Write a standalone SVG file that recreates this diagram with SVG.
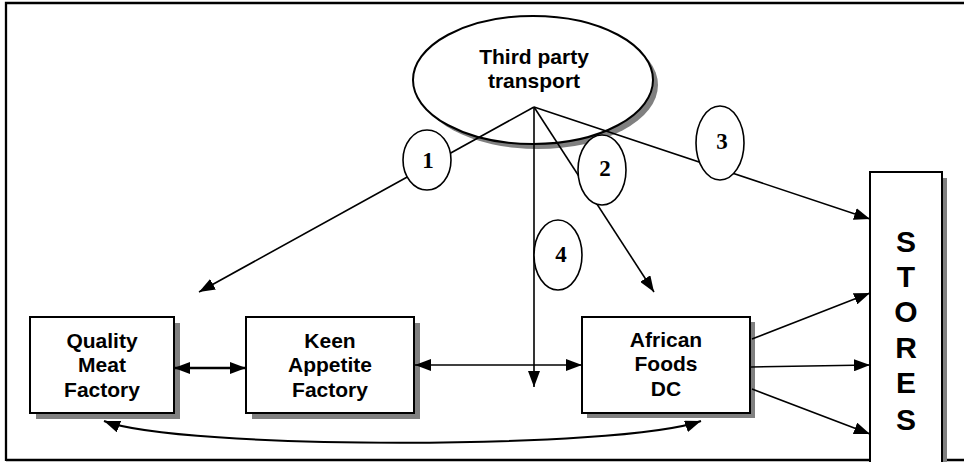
<svg xmlns="http://www.w3.org/2000/svg" width="964" height="462" viewBox="0 0 964 462">
<defs>
<marker id="ah" markerUnits="userSpaceOnUse" markerWidth="16" markerHeight="12" refX="16" refY="6" orient="auto-start-reverse" viewBox="0 0 16 12">
<path d="M0,0 L16,6 L0,12 z" fill="#000"/>
</marker>
</defs>
<style>
.box{fill:#fff;stroke:#000;stroke-width:2}
.shadow{fill:#808080;stroke:none}
.lbl{font-family:"Liberation Sans",Arial,sans-serif;font-weight:bold;font-size:21px;text-anchor:middle;fill:#000}
.st{font-family:"Liberation Sans",Arial,sans-serif;font-weight:bold;font-size:30px;text-anchor:middle;fill:#000}
.num{font-family:"Liberation Serif","Times New Roman",serif;font-weight:bold;font-size:23px;text-anchor:middle;fill:#000}
.cir{fill:#fff;stroke:#000;stroke-width:1.6}
.ln{fill:none;stroke:#000;stroke-width:1.6}
</style>
<rect x="0" y="0" width="964" height="462" fill="#fff"/>
<g id="frame">
<path d="M6,461 L6,3 L964,3 M6,460 L964,460" fill="none" stroke="#000" stroke-width="2.3"/>
</g>
<g id="third-party">
<ellipse cx="538" cy="85" rx="120" ry="64" class="shadow"/>
<ellipse cx="533" cy="80" rx="120" ry="64" class="box"/>
<text x="534" y="64" class="lbl">Third party</text>
<text x="534" y="88" class="lbl">transport</text>
</g>
<g id="quality-meat">
<rect x="36" y="323" width="144" height="96" class="shadow"/>
<rect x="30" y="317" width="144" height="96" class="box"/>
<text x="102" y="348" class="lbl">Quality</text>
<text x="102" y="372" class="lbl">Meat</text>
<text x="102" y="397" class="lbl">Factory</text>
</g>
<g id="keen-appetite">
<rect x="252" y="323" width="168" height="96" class="shadow"/>
<rect x="246" y="317" width="168" height="96" class="box"/>
<text x="330" y="348" class="lbl">Keen</text>
<text x="330" y="372" class="lbl">Appetite</text>
<text x="330" y="397" class="lbl">Factory</text>
</g>
<g id="african-foods">
<rect x="587" y="322" width="168" height="96" class="shadow"/>
<rect x="582" y="317" width="168" height="96" class="box"/>
<text x="666" y="347" class="lbl">African</text>
<text x="666" y="371" class="lbl">Foods</text>
<text x="666" y="396" class="lbl">DC</text>
</g>
<g id="stores">
<rect x="875" y="178" width="72" height="290" class="shadow"/>
<rect x="870" y="172" width="72" height="292" class="box"/>
<text x="906" y="252" class="st">S</text>
<text x="906" y="287" class="st">T</text>
<text x="906" y="322" class="st">O</text>
<text x="906" y="358" class="st">R</text>
<text x="906" y="393" class="st">E</text>
<text x="906" y="430" class="st">S</text>
</g>
<g id="connectors">
<line x1="534" y1="107" x2="199" y2="292" class="ln" marker-end="url(#ah)"/>
<line x1="534" y1="107" x2="654" y2="292" class="ln" marker-end="url(#ah)"/>
<line x1="534" y1="107" x2="870" y2="219" class="ln" marker-end="url(#ah)"/>
<line x1="534" y1="107" x2="534" y2="387" class="ln" marker-end="url(#ah)"/>
<line x1="174" y1="368" x2="246" y2="368" fill="none" stroke="#000" stroke-width="2.6" marker-start="url(#ah)" marker-end="url(#ah)"/>
<line x1="415" y1="365" x2="582" y2="365" class="ln" marker-start="url(#ah)" marker-end="url(#ah)"/>
<line x1="752" y1="339" x2="870" y2="293" class="ln" marker-end="url(#ah)"/>
<line x1="751" y1="367" x2="870" y2="365" class="ln" marker-end="url(#ah)"/>
<line x1="752" y1="389" x2="870" y2="434" class="ln" marker-end="url(#ah)"/>
<path d="M104,421 C180,450 620,450 701,421" fill="none" stroke="#000" stroke-width="2" marker-start="url(#ah)" marker-end="url(#ah)"/>
</g>
<g id="label-1">
<ellipse cx="427" cy="160" rx="24" ry="30" class="cir"/>
<text x="428" y="168" class="num">1</text>
</g>
<g id="label-2">
<ellipse cx="602" cy="170" rx="24" ry="35" class="cir"/>
<text x="605" y="176" class="num">2</text>
</g>
<g id="label-3">
<ellipse cx="720" cy="143" rx="24" ry="37" class="cir"/>
<text x="722" y="149" class="num">3</text>
</g>
<g id="label-4">
<ellipse cx="558" cy="255" rx="24" ry="35" class="cir"/>
<text x="561" y="262" class="num">4</text>
</g>
</svg>
